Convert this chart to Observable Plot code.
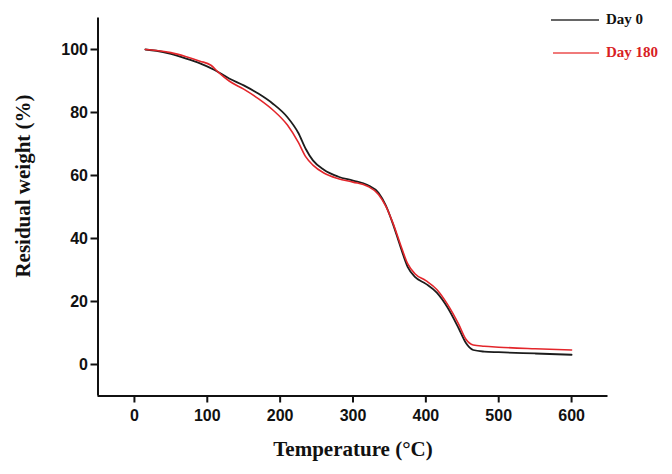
<!DOCTYPE html>
<html>
<head>
<meta charset="utf-8">
<script src="https://cdn.jsdelivr.net/npm/d3@7"></script>
<script src="https://cdn.jsdelivr.net/npm/@observablehq/plot@0.6"></script>
<style>
  html, body { margin: 0; padding: 0; background: #fff; }
  #wrap { position: relative; width: 672px; height: 474px; }
  .leg { position: absolute; font-family: "Liberation Serif", "Times New Roman", serif; font-weight: bold; font-size: 15px; line-height: 15px; }
  .legline { position: absolute; height: 2px; }
</style>
</head>
<body>
<div id="wrap"></div>
<script>
// Temperature (°C) samples for each series
const day0Temp   = [15, 30, 50, 70, 90, 110, 130, 150, 170, 190, 210, 225, 235, 245, 260, 280, 300, 320, 335, 345, 355, 365, 375, 385, 400, 415, 430, 445, 455, 465, 480, 500, 550, 600];
const day0Weight = [100, 99.6, 98.6, 97.2, 95.6, 93.5, 90.8, 88.6, 86.0, 82.8, 78.5, 73.5, 68.5, 64.8, 61.8, 59.6, 58.4, 57.0, 54.5, 50.5, 44.5, 37.5, 31.0, 27.8, 25.6, 22.8, 18.0, 11.5, 6.8, 4.6, 4.1, 3.9, 3.5, 3.1];
const day180Temp   = [15, 30, 50, 70, 90, 105, 115, 130, 150, 170, 190, 210, 225, 235, 245, 260, 280, 300, 320, 335, 345, 355, 365, 375, 385, 400, 415, 430, 445, 455, 465, 480, 500, 550, 600];
const day180Weight = [100, 99.7, 99.0, 97.8, 96.3, 95.0, 92.8, 90.0, 87.4, 84.4, 80.8, 76.0, 70.5, 66.0, 63.3, 60.8, 59.0, 57.9, 56.6, 54.0, 50.3, 44.8, 38.2, 32.0, 28.8, 26.6, 23.8, 19.0, 12.8, 8.0, 6.2, 5.8, 5.5, 5.0, 4.6];
const seriesNames = ["Day 0", "Day 180"];
const seriesColors = ["#1c1c1c", "#e3262b"];
const legendLineColors = ["#666666", "#f07a7a"];
const legendTextColors = ["#111111", "#d81e24"];
const xTicks = [0, 100, 200, 300, 400, 500, 600];
const yTicks = [0, 20, 40, 60, 80, 100];
const xDomain = [-50, 650];
const yDomain = [-10, 110];
const xTitle = "Temperature (°C)";
const yTitle = "Residual weight (%)";

const day0 = day0Temp.map((t, i) => ({t, w: day0Weight[i]}));
const day180 = day180Temp.map((t, i) => ({t, w: day180Weight[i]}));

const tickFont = {fontFamily: "'Liberation Sans', Arial, sans-serif", fontSize: 16, fontWeight: "bold", fill: "#111"};
const titleFont = {fontFamily: "'Liberation Serif', 'Times New Roman', serif", fontSize: 21, fontWeight: "bold", fill: "#111"};

const chart = Plot.plot({
  width: 672,
  height: 474,
  marginLeft: 97.5,
  marginRight: 64.5,
  marginTop: 17.5,
  marginBottom: 78.5,
  x: {domain: xDomain, label: null},
  y: {domain: yDomain, label: null},
  marks: [
    Plot.ruleX([xDomain[0]], {stroke: "#111", strokeWidth: 2}),
    Plot.ruleY([yDomain[0]], {stroke: "#111", strokeWidth: 2}),
    Plot.axisX({ticks: xTicks, tickSize: 7, tickPadding: 7, strokeWidth: 2, stroke: "#111", label: null, tickFormat: d => String(d), ...tickFont}),
    Plot.axisY({ticks: yTicks, tickSize: 7, tickPadding: 3, strokeWidth: 2, stroke: "#111", label: null, tickFormat: d => String(d), ...tickFont}),
    Plot.line(day0, {x: "t", y: "w", stroke: seriesColors[0], strokeWidth: 1.8, curve: "monotone-x"}),
    Plot.line(day180, {x: "t", y: "w", stroke: seriesColors[1], strokeWidth: 1.6, curve: "monotone-x"}),
    Plot.text([yTitle], {frameAnchor: "left", textAnchor: "middle", lineAnchor: "middle", dx: -74.5, dy: -21, rotate: -90, text: d => d, ...titleFont}),
    Plot.text([xTitle], {frameAnchor: "bottom", textAnchor: "middle", lineAnchor: "middle", dx: 0, dy: 53, text: d => d, ...titleFont})
  ]
});

const wrap = document.getElementById("wrap");
wrap.appendChild(chart);

// Legend (top right)
const legendPos = [{lineLeft: 551, lineWidth: 48, y: 20}, {lineLeft: 553, lineWidth: 46, y: 53}];
seriesNames.forEach((name, i) => {
  const ln = document.createElement("div");
  ln.className = "legline";
  ln.style.left = legendPos[i].lineLeft + "px";
  ln.style.width = legendPos[i].lineWidth + "px";
  ln.style.top = (legendPos[i].y - 1) + "px";
  ln.style.background = legendLineColors[i];
  wrap.appendChild(ln);
  const tx = document.createElement("div");
  tx.className = "leg";
  tx.textContent = name;
  tx.style.left = "606px";
  tx.style.top = (legendPos[i].y - 8) + "px";
  tx.style.color = legendTextColors[i];
  wrap.appendChild(tx);
});
</script>
</body>
</html>
